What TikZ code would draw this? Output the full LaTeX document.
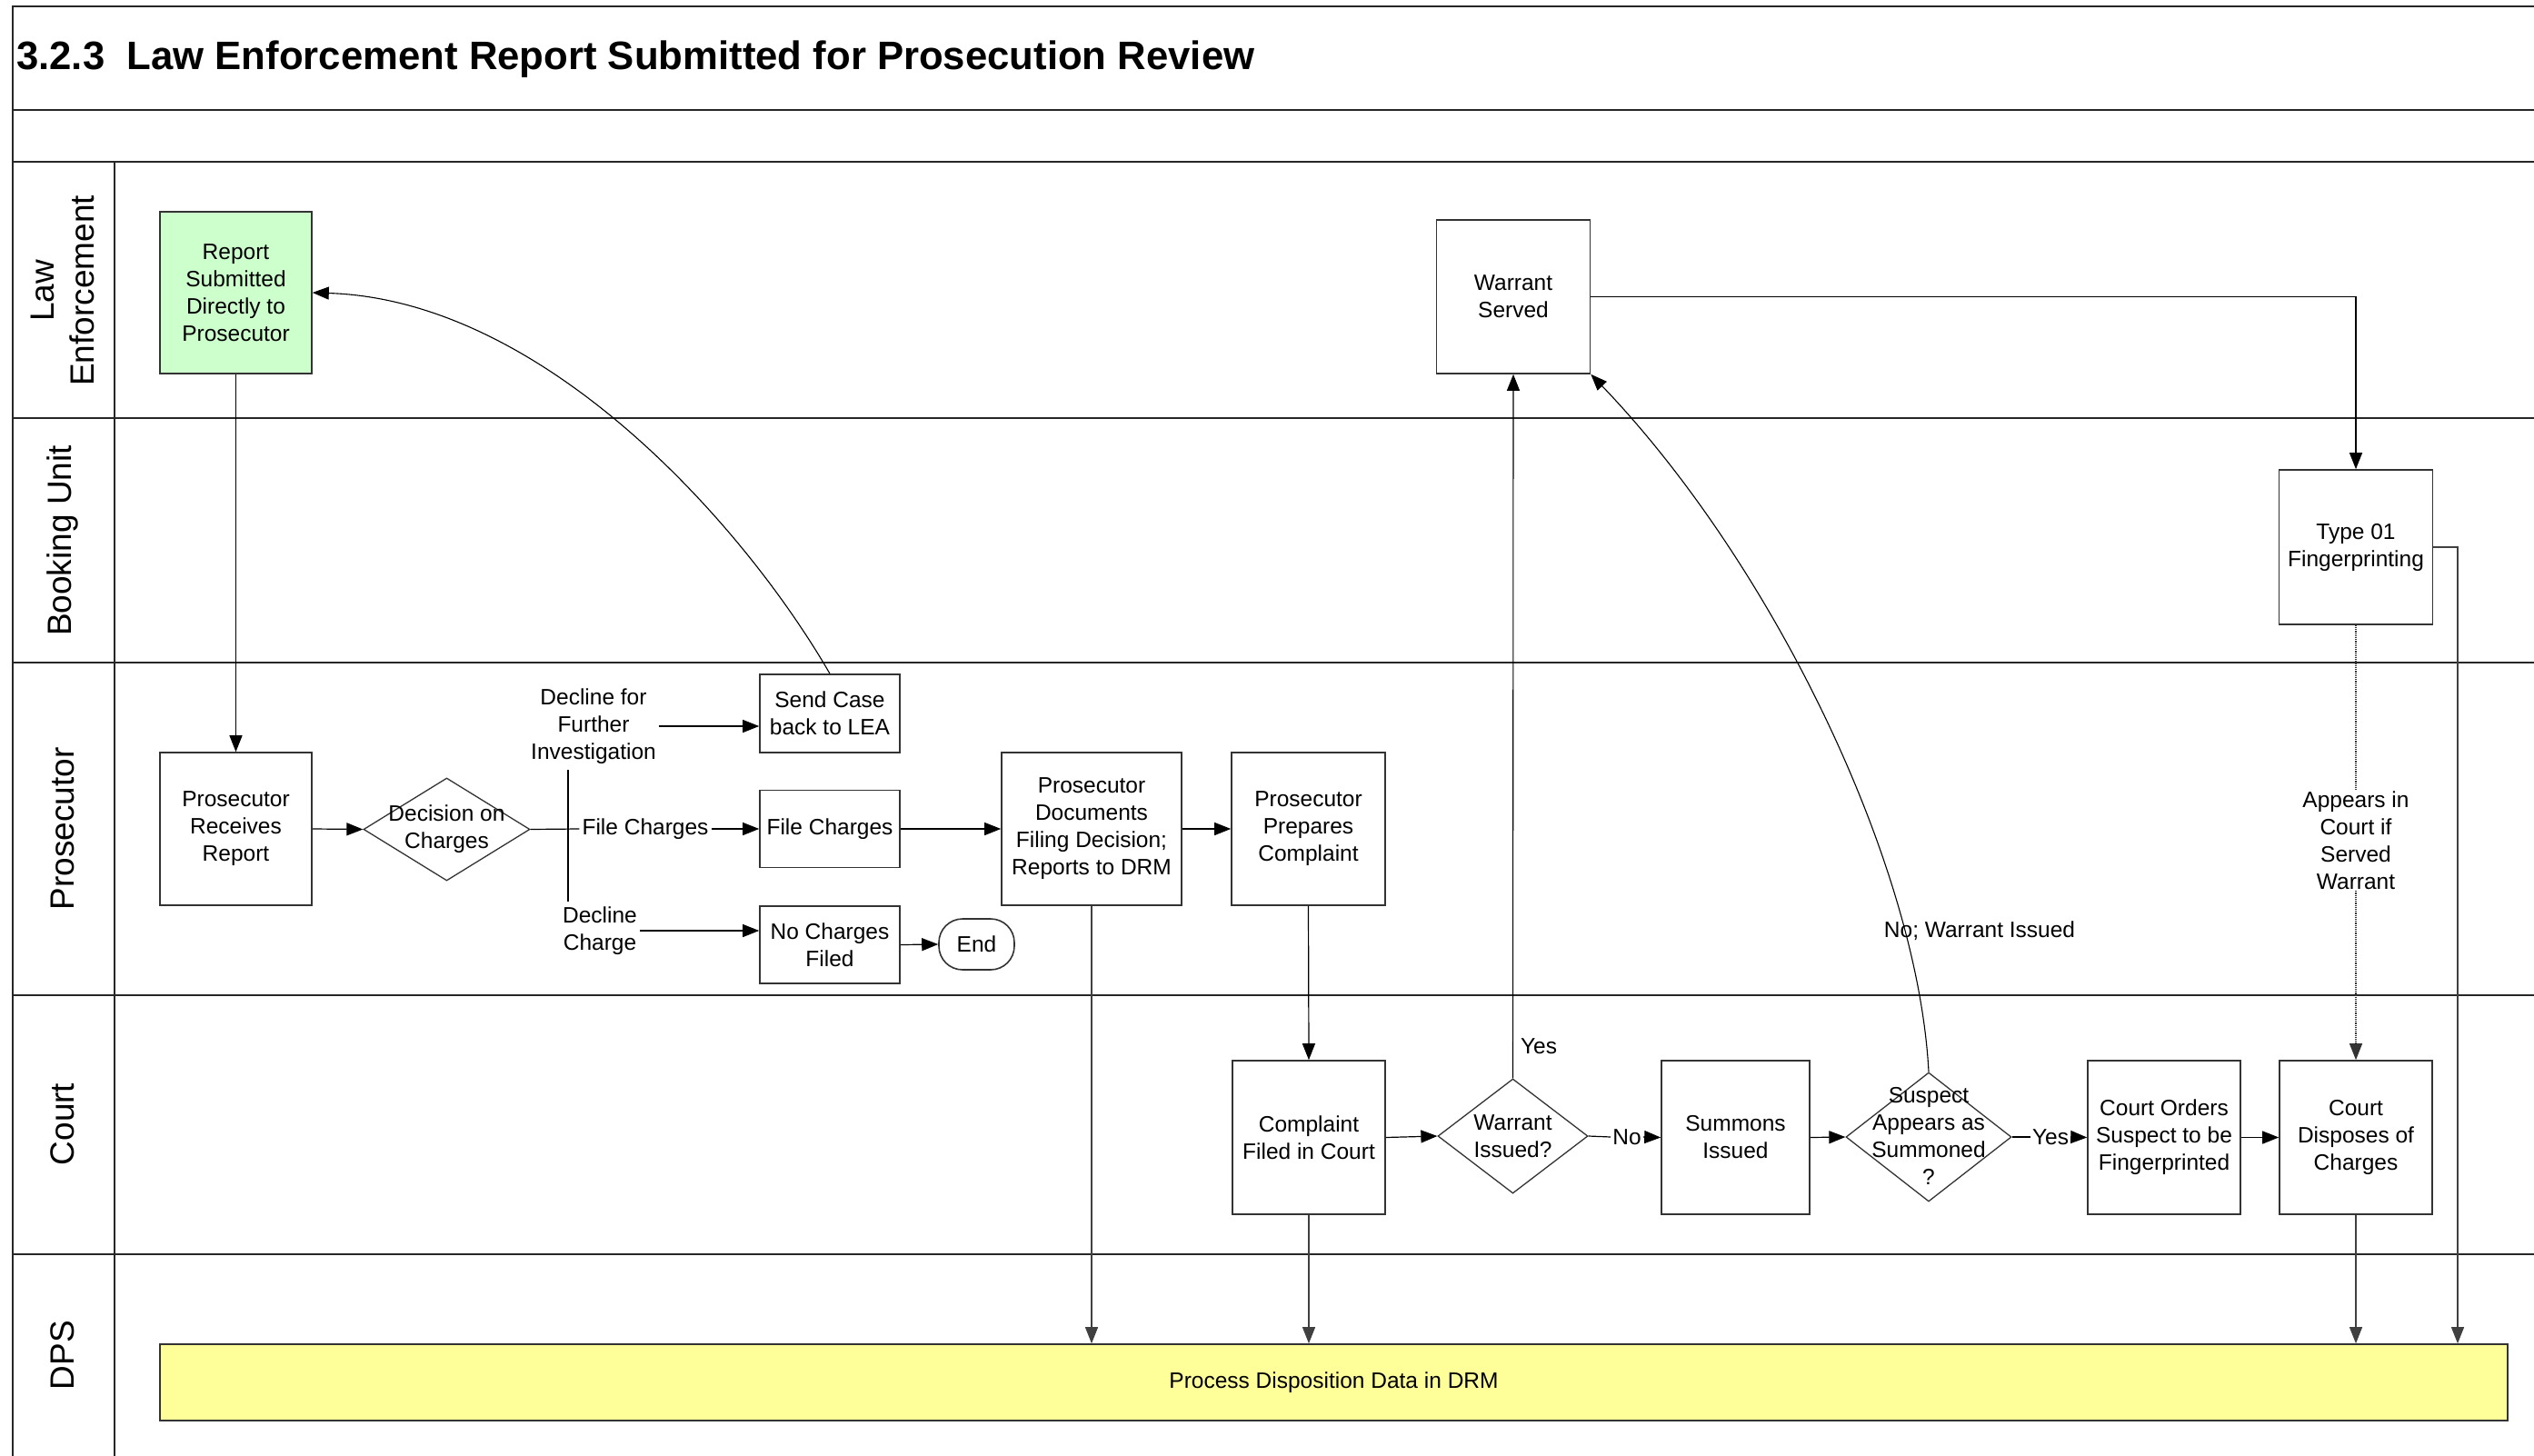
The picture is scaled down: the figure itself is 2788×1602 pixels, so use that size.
\documentclass[tikz,border=0pt]{standalone}
\usepackage{fontspec}
\setmainfont{Liberation Sans}
\usetikzlibrary{arrows.meta,shapes.geometric}
\newcommand\nfont{\fontsize{24.5}{30}\selectfont}
\newcommand\lfont{\fontsize{37}{44}\selectfont}
\newcommand\tfont{\fontsize{43.7}{50}\selectfont\bfseries}
\definecolor{boxgreen}{HTML}{CCFFCC}
\definecolor{boxyellow}{HTML}{FFFF99}
\begin{document}
\begin{tikzpicture}[x=1pt,y=-1pt,
  frame/.style={draw=black!85,line width=2.2pt},
  box/.style={draw=black!80,line width=1.6pt,rectangle,inner sep=2pt,align=center,font=\nfont},
  dia/.style={draw=black!80,line width=1.3pt,diamond,inner sep=0pt},
  dtext/.style={align=center,font=\nfont,inner sep=0pt},
  lbl/.style={align=center,font=\nfont,inner sep=3pt},
  lanelbl/.style={rotate=90,align=center,font=\lfont},
  ln/.style={draw=black,line width=1.2pt},
  arr/.style={draw=black,line width=1.2pt,-{Triangle[length=18pt,width=14pt]}},
  garr/.style={draw=black!75,line width=1.1pt,-{Triangle[length=18pt,width=14pt]}}
]
\useasboundingbox (0,0) rectangle (2788,1602);
% frame and lanes
\draw[frame] (2788,7) -- (14,7) -- (14,1602);
\foreach \yy in {121,178,460,729,1095,1380} {\draw[frame] (14,\yy) -- (2788,\yy);}
\draw[frame] (126,178) -- (126,1602);
\node[anchor=west,font=\tfont,inner sep=0pt] (title) at (18,65) {3.2.3\ \ Law Enforcement Report Submitted for Prosecution Review};
% lane labels
\node[lanelbl] (lLE) at (69,320) {Law\\Enforcement};
\node[lanelbl] (lBU) at (69,595) {Booking Unit};
\node[lanelbl] (lPR) at (69,912) {Prosecutor};
\node[lanelbl] (lCO) at (69,1237) {Court};
\node[lanelbl] (lDP) at (69,1491) {DPS};
% nodes
\node[box,fill=boxgreen,minimum width=167pt,minimum height=178pt] (report) at (259.5,322) {Report\\Submitted\\Directly to\\Prosecutor};
\node[box,minimum width=167pt,minimum height=168pt] (precv) at (259.5,912) {Prosecutor\\Receives\\Report};
\node[dia,minimum width=183pt,minimum height=113pt] (dec) at (491.5,912.5) {};
\node[dtext] (dect) at (491.5,912.5) {Decision on\\Charges};
\node[box,minimum width=154pt,minimum height=86pt] (send) at (913,785) {Send Case\\back to LEA};
\node[box,minimum width=154pt,minimum height=85pt] (filech) at (913,912) {File Charges};
\node[box,minimum width=154pt,minimum height=85pt] (noch) at (913,1039.5) {No Charges\\Filed};
\node[box,rounded corners=26pt,minimum width=83pt,minimum height=56pt] (endn) at (1074.5,1039) {End};
\node[box,minimum width=198pt,minimum height=168pt] (pdoc) at (1201,912) {Prosecutor\\Documents\\Filing Decision;\\Reports to DRM};
\node[box,minimum width=169pt,minimum height=168pt] (pprep) at (1439.5,912) {Prosecutor\\Prepares\\Complaint};
\node[box,minimum width=168pt,minimum height=169pt] (cfiled) at (1440,1251.5) {Complaint\\Filed in Court};
\node[dia,minimum width=165pt,minimum height=126pt] (wiss) at (1664.5,1250) {};
\node[dtext] (wisst) at (1664.5,1250) {Warrant\\Issued?};
\node[box,minimum width=163pt,minimum height=169pt] (summ) at (1909.5,1251.5) {Summons\\Issued};
\node[dia,minimum width=182pt,minimum height=142pt] (susp) at (2122,1251) {};
\node[dtext] (suspt) at (2122,1250) {Suspect\\Appears as\\Summoned\\?};
\node[box,minimum width=168pt,minimum height=169pt] (cord) at (2381,1251.5) {Court Orders\\Suspect to be\\Fingerprinted};
\node[box,minimum width=168pt,minimum height=169pt] (cdisp) at (2592,1251.5) {Court\\Disposes of\\Charges};
\node[box,minimum width=169pt,minimum height=169pt] (wserv) at (1665,326.5) {Warrant\\Served};
\node[box,minimum width=169pt,minimum height=170pt] (type01) at (2592,602) {Type 01\\Fingerprinting};
\node[box,fill=boxyellow,minimum width=2583pt,minimum height=84pt] (dps) at (1467.5,1521) {Process Disposition Data in DRM};
% labels
\node[lbl] (fcl) at (710,912) {File Charges};
\node[lbl] (dfi) at (653,799) {Decline for\\Further\\Investigation};
\node[lbl] (dcl) at (660,1024) {Decline\\Charge};
\node[lbl,inner sep=2pt] (nol) at (1790,1251) {No};
\node[lbl,inner sep=2pt] (yes2) at (2256,1251) {Yes};
\node[lbl] (yes1) at (1693,1151) {Yes};
\node[lbl] (nwi) at (2178,1024) {No; Warrant Issued};
\node[lbl,inner sep=1pt] (apl) at (2592,925) {Appears in\\Court if\\Served\\Warrant};
\coordinate (brtop) at (625,847);
\coordinate (brbot) at (625,992);
\coordinate (t1c) at (2704,602);
% connectors
\draw[arr] (report.south) -- (precv.north);
\draw[arr] (precv.east) -- (dec.west);
\draw[ln] (dec.east) -- (fcl.west);
\draw[arr] (fcl.east) -- (filech.west);
\draw[ln] (brtop) -- (brbot);
\draw[arr] (dfi.east) -- (dfi.east -| send.west);
\draw[arr] (dcl.east) -- (dcl.east -| noch.west);
\draw[arr] (noch.east) -- (endn.west);
\draw[arr,line width=1.1pt] (send.north) .. controls (820,580) and (600,330) .. (report.east);
\draw[arr] (filech.east) -- (pdoc.west);
\draw[arr] (pdoc.east) -- (pprep.west);
\draw[garr] (pdoc.south) -- (pdoc.south |- dps.north);
\draw[arr] (pprep.south) -- (cfiled.north);
\draw[arr] (cfiled.east) -- (wiss.west);
\draw[garr] (cfiled.south) -- (cfiled.south |- dps.north);
\draw[arr,line width=1.1pt] (wiss.north) -- (wserv.south);
\draw[ln] (wiss.east) -- (nol.west);
\draw[arr] (nol.east) -- (summ.west);
\draw[arr] (summ.east) -- (susp.west);
\draw[ln] (susp.east) -- (yes2.west);
\draw[arr] (yes2.east) -- (cord.west);
\draw[arr] (cord.east) -- (cdisp.west);
\draw[arr,line width=1.1pt] (susp.north) .. controls (2110,950) and (1950,620) .. (wserv.south east);
\draw[arr] (wserv.east) -- (wserv.east -| type01.north) -- (type01.north);
\draw[draw=black!80,line width=1.2pt,densely dotted] (type01.south) -- (apl.north);
\draw[garr,draw=black!80,line width=1.2pt,densely dotted] (apl.south) -- (cdisp.north);
\draw[garr] (cdisp.south) -- (cdisp.south |- dps.north);
\draw[garr] (type01.east) -- (t1c) -- (t1c |- dps.north);
\end{tikzpicture}
\end{document}
